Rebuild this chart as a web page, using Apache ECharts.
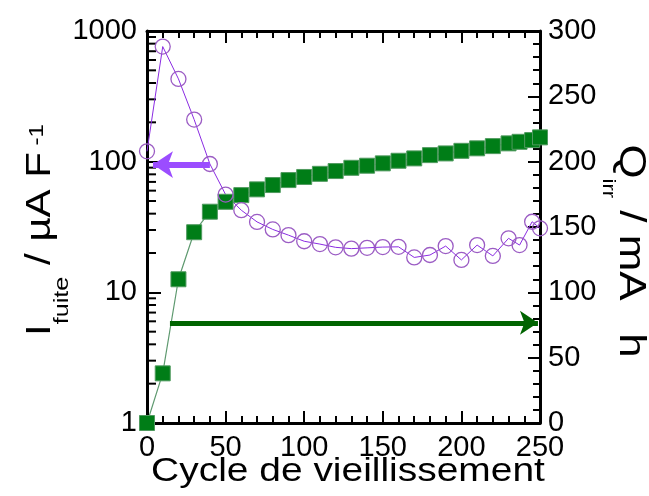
<!DOCTYPE html>
<html lang="fr">
<head>
<meta charset="UTF-8">
<script src="https://cdn.jsdelivr.net/npm/echarts@6/dist/echarts.min.js"></script>
<style>
    html, body { margin: 0; background: #fff; }
    #chart { width: 649px; height: 496px; }
</style>
</head>
<body>
<div id="chart"></div>
<script>
    // cycle numbers (x), leakage current (left, log) and irreversible capacity (right)
    var cycles = [0, 10, 20, 30, 40, 50, 60, 70, 80, 90, 100, 110, 120, 130, 140, 150, 160, 170, 180, 190, 200, 210, 220, 230, 237, 245, 250];
    var iFuite = [120, 760, 430, 210, 96, 56, 42.5, 34.6, 30.3, 27.4, 24.6, 23.4, 22.1, 21.6, 21.9, 22.2, 22.3, 18.5, 19.3, 22.6, 17.7, 23.0, 19.0, 25.9, 23.0, 34.7, 30.9];
    var qIrr = [0, 38, 110, 146, 161.7, 169.3, 174.4, 178.8, 182.1, 185.9, 188.3, 190.7, 192.8, 195.3, 196.9, 198.7, 200.7, 202.5, 205, 206.3, 208.3, 210.2, 211.9, 214, 215.2, 216.5, 218.6];
    var logMinorTicks = [2, 3, 4, 5, 6, 7, 8, 9, 20, 30, 40, 50, 60, 70, 80, 90, 200, 300, 400, 500, 600, 700, 800, 900];
    // arrows: [x, y] start and end in data units
    var arrowLeft = [[40, 95], [3.8, 95]];
    var arrowRight = [[14.6, 76.7], [248.7, 76.7]];

    var labelFont = 'Liberation Sans, Arial, sans-serif';
    var chart = echarts.init(document.getElementById('chart'));

    var pairs = function (ys) { return cycles.map(function (c, i) { return [c, ys[i]]; }); };

    chart.setOption({
        animation: false,
        grid: { left: 147, right: 109, top: 31, bottom: 73 },
        xAxis: [
            {
                type: 'value', min: 0, max: 250, interval: 50,
                axisLine: { onZero: false, lineStyle: { color: '#000', width: 3 } },
                axisTick: { show: true, inside: true, length: 12, lineStyle: { color: '#000', width: 2 } },
                minorTick: { show: true, splitNumber: 5, length: 7, lineStyle: { color: '#000', width: 2 } },
                axisLabel: { show: true, color: '#000', fontSize: 29, fontFamily: labelFont, margin: 10 },
                splitLine: { show: false }
            },
            {
                type: 'value', position: 'top', min: 0, max: 250, interval: 50,
                axisLine: { show: true, onZero: false, lineStyle: { color: '#000', width: 3 } },
                axisTick: { show: true, inside: true, length: 12, lineStyle: { color: '#000', width: 2 } },
                minorTick: { show: true, splitNumber: 5, length: 7, lineStyle: { color: '#000', width: 2 } },
                axisLabel: { show: false },
                splitLine: { show: false }
            }
        ],
        yAxis: [
            {
                type: 'log', min: 1, max: 1000,
                axisLine: { show: true, onZero: false, lineStyle: { color: '#000', width: 3 } },
                axisTick: { show: true, inside: true, length: 14, lineStyle: { color: '#000', width: 2 } },
                axisLabel: {
                    color: '#000', fontSize: 29, fontFamily: labelFont, margin: 10,
                    formatter: function (v) { return String(Math.round(v)); }
                },
                splitLine: { show: false }
            },
            {
                type: 'value', min: 0, max: 300, interval: 50, position: 'right',
                axisLine: { show: true, onZero: false, lineStyle: { color: '#000', width: 3 } },
                axisTick: { show: true, inside: true, length: 12, lineStyle: { color: '#000', width: 2 } },
                minorTick: { show: true, splitNumber: 5, length: 7, lineStyle: { color: '#000', width: 2 } },
                axisLabel: { color: '#000', fontSize: 29, fontFamily: labelFont },
                splitLine: { show: false }
            }
        ],
        series: [
            {
                // minor decade ticks of the log axis
                type: 'custom', xAxisIndex: 0, yAxisIndex: 0, silent: true, clip: false,
                data: logMinorTicks.map(function (v) { return [0, v]; }),
                renderItem: function (params, api) {
                    var p = api.coord([0, api.value(1)]);
                    return {
                        type: 'line',
                        shape: { x1: p[0], y1: p[1], x2: p[0] + 9, y2: p[1] },
                        style: { stroke: '#000', lineWidth: 2 }
                    };
                }
            },
            {
                name: 'Qirr', type: 'line', xAxisIndex: 0, yAxisIndex: 1,
                data: pairs(qIrr),
                symbol: 'rect', symbolSize: 15,
                itemStyle: { color: '#007d17', borderColor: '#4f9a5f', borderWidth: 1 },
                lineStyle: { color: '#5f9a70', width: 1.2 },
                markLine: {
                    silent: true, symbol: ['none', 'arrow'], symbolSize: 18,
                    label: { show: false },
                    lineStyle: { color: '#006400', width: 5, type: 'solid' },
                    data: [[{ coord: arrowRight[0] }, { coord: arrowRight[1] }]]
                }
            },
            {
                name: 'Ifuite', type: 'line', xAxisIndex: 0, yAxisIndex: 0,
                data: pairs(iFuite),
                symbol: 'circle', symbolSize: 15,
                itemStyle: { color: 'rgba(0,0,0,0)', borderColor: '#9b5cc4', borderWidth: 1.3 },
                lineStyle: { color: '#8a2be2', width: 1 },
                markLine: {
                    silent: true, symbol: ['none', 'arrow'], symbolSize: 20,
                    label: { show: false },
                    lineStyle: { color: '#9b4dff', width: 6, type: 'solid' },
                    data: [[{ coord: arrowLeft[0] }, { coord: arrowLeft[1] }]]
                }
            }
        ],
        graphic: [
            {
                type: 'text', x: 348, y: 472, scaleX: 1.18,
                style: { text: 'Cycle de vieillissement', font: '33px ' + labelFont, fill: '#000', align: 'center', verticalAlign: 'middle' }
            },
            {
                type: 'text', x: 40, y: 230, rotation: Math.PI / 2, scaleX: 1.2,
                style: {
                    text: '{m|I}{sub|fuite}{m| / µA F}{sup| -1}',
                    align: 'center', verticalAlign: 'middle', fill: '#000',
                    rich: {
                        m: { fontSize: 35, fontFamily: labelFont, lineHeight: 35 },
                        sub: { fontSize: 21, fontFamily: labelFont, lineHeight: 21, padding: [44, 0, 0, 0] },
                        sup: { fontSize: 20, fontFamily: labelFont, lineHeight: 20, padding: [0, 0, 5, 0] }
                    }
                }
            },
            {
                type: 'text', x: 630, y: 251, rotation: -Math.PI / 2, scaleX: 1.22,
                style: {
                    text: '{m|Q}{sub|irr}{m| / mA }{w| }{m|h}',
                    align: 'center', verticalAlign: 'middle', fill: '#000',
                    rich: {
                        m: { fontSize: 36, fontFamily: labelFont, lineHeight: 36 },
                        w: { fontSize: 60, fontFamily: labelFont, lineHeight: 36 },
                        sub: { fontSize: 18, fontFamily: labelFont, lineHeight: 18, padding: [44, 0, 0, 0] }
                    }
                }
            }
        ]
    });
</script>
</body>
</html>
